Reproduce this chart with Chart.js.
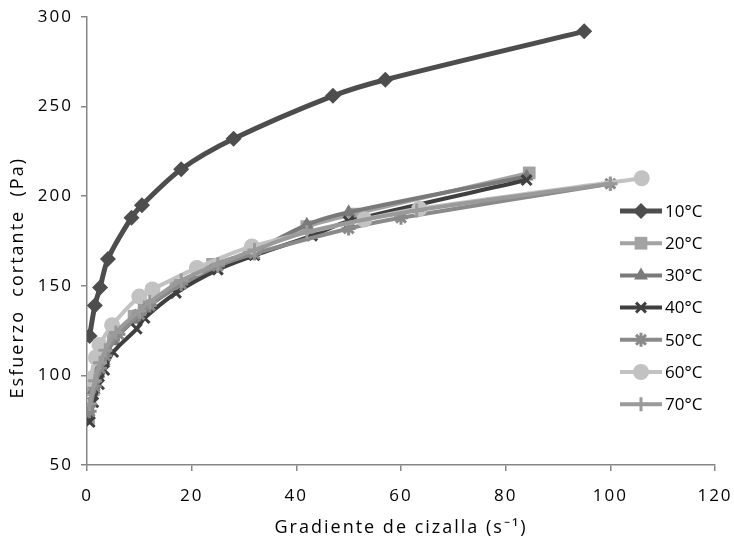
<!DOCTYPE html>
<html>
<head>
<meta charset="utf-8">
<script src="https://cdn.jsdelivr.net/npm/chart.js@4/dist/chart.umd.min.js"></script>
<style>
html, body { margin: 0; padding: 0; background: #fff; }
#wrap { width: 734px; height: 543px; }
</style>
</head>
<body>
<div id="wrap"><canvas id="chart"></canvas></div>
<script>
// temperatures (legend)
var labels = ['10°C', '20°C', '30°C', '40°C', '50°C', '60°C', '70°C'];

// shear rate (s-1) / shear stress (Pa)
var x10 = [0.5, 1.5, 2.5, 4, 8.5, 10.5, 18, 28, 47, 57, 95];
var y10 = [122, 139, 149, 165, 188, 195, 215, 232, 256, 265, 292];

var x20 = [0.3, 1.2, 2, 3, 5, 9, 11, 17, 24, 31, 42, 51, 84.5];
var y20 = [76, 92, 102, 110, 121, 133, 139, 150, 162, 168, 183, 190, 213];

var x30 = [0.4, 1.3, 2.2, 3.2, 5, 9, 11, 17, 24, 31, 42, 50, 84];
var y30 = [78, 92, 101, 108, 119, 131, 137, 149, 160, 168, 184, 191, 211];

var x40 = [0.5, 1.2, 2.3, 3.3, 5, 9.5, 11, 17, 25, 32, 43, 50, 84];
var y40 = [74, 85, 95, 103, 113, 126, 132, 146, 159, 167, 178, 186, 209];

var x50 = [0.5, 1.5, 2.5, 3.5, 6, 10, 12, 18, 25, 32, 50, 60, 100];
var y50 = [80, 94, 104, 111, 123, 134, 139, 151, 161, 168, 182, 188, 207];

var x60 = [0.5, 1.7, 2.4, 4.8, 10, 12.5, 21, 31.5, 53, 63.5, 106];
var y60 = [98, 110, 117, 128, 144, 148, 160, 172, 187, 193, 210];

var x70 = [0.5, 1.5, 2.5, 3.5, 5.5, 10, 12, 18, 25, 32, 42, 63, 100];
var y70 = [84, 97, 107, 114, 124, 136, 141, 153, 162, 170, 180, 192, 207];

var xTicks = [0, 20, 40, 60, 80, 100, 120];
var yTicks = [50, 100, 150, 200, 250, 300];

var xs = [x10, x20, x30, x40, x50, x60, x70];
var ys = [y10, y20, y30, y40, y50, y60, y70];

var colors = ['#4d4d4d', '#a3a3a3', '#7a7a7a', '#3f3f3f', '#8a8a8a', '#c2c2c2', '#9a9a9a'];
var styles = ['rectRot', 'rect', 'triangle', 'crossRot', 'star', 'circle', 'cross'];
var radii = [8, 9, 8, 7, 7, 8, 7];

function pts(a, b) {
    return a.map(function (v, i) { return { x: v, y: b[i] }; });
}

var datasets = labels.map(function (name, i) {
    return {
        label: name,
        data: pts(xs[i], ys[i]),
        borderColor: colors[i],
        backgroundColor: colors[i],
        borderWidth: i === 0 ? 5 : 4,
        pointStyle: styles[i],
        pointRadius: radii[i],
        pointBorderWidth: (styles[i] === 'crossRot' || styles[i] === 'star' || styles[i] === 'cross') ? 3 : 0,
        pointHoverRadius: radii[i],
        tension: 0.3,
        order: labels.length - i   // later series on top, like the original
    };
});

// wide-ish lettering for axis text (the original looks stretched)
var spacing = {
    id: 'spacing',
    beforeDraw: function (chart) { chart.ctx.letterSpacing = '2px'; }
};

// legend drawn inside the plot, line + marker + text
var lineLegend = {
    id: 'lineLegend',
    afterDraw: function (chart) {
        var ctx = chart.ctx;
        var area = chart.chartArea;
        var x0 = area.right - 95, x1 = x0 + 42;
        chart.data.datasets.forEach(function (ds, i) {
            var y = area.top + 194 + i * 32.2;
            ctx.save();
            ctx.letterSpacing = '0px';
            ctx.strokeStyle = ds.borderColor;
            ctx.fillStyle = ds.backgroundColor;
            ctx.lineWidth = ds.borderWidth;
            ctx.beginPath();
            ctx.moveTo(x0, y);
            ctx.lineTo(x1, y);
            ctx.stroke();
            ctx.lineWidth = ds.pointBorderWidth;
            Chart.helpers.drawPoint(ctx, {
                pointStyle: ds.pointStyle,
                radius: ds.pointRadius,
                rotation: 0,
                borderWidth: ds.pointBorderWidth
            }, (x0 + x1) / 2, y);
            ctx.fillStyle = '#000';
            ctx.font = '17px "Open Sans"';
            ctx.textBaseline = 'middle';
            ctx.fillText(ds.label, x1 + 3, y + 1);
            ctx.restore();
        });
    }
};

var axisColor = '#868686';

var ctx = document.getElementById('chart').getContext('2d');
var chart = new Chart(ctx, {
    type: 'line',
    data: { datasets: datasets },
    options: {
        responsive: true,
        maintainAspectRatio: false,
        animation: false,
        layout: { padding: { top: 17, right: 19, left: 0, bottom: 0 } },
        plugins: {
            legend: { display: false },
            tooltip: { enabled: false }
        },
        scales: {
            x: {
                type: 'linear',
                min: 0,
                max: 120,
                afterBuildTicks: function (s) { s.ticks = xTicks.map(function (v) { return { value: v }; }); },
                afterFit: function (s) { s.height = 78; s.paddingLeft = 0; s.paddingRight = 0; },
                grid: { drawOnChartArea: false, drawTicks: true, tickLength: 6, color: axisColor, lineWidth: 1.5 },
                border: { color: axisColor, width: 1.5 },
                ticks: { color: '#000', font: { family: 'Open Sans', size: 17 }, padding: 15, maxRotation: 0 },
                title: {
                    display: true,
                    text: 'Gradiente de cizalla (s⁻¹)',
                    color: '#000',
                    font: { family: 'Open Sans', size: 18 },
                    padding: { top: 0, bottom: 4 }
                }
            },
            y: {
                type: 'linear',
                min: 50,
                max: 300,
                afterBuildTicks: function (s) { s.ticks = yTicks.map(function (v) { return { value: v }; }); },
                afterFit: function (s) { s.width = 87; s.paddingTop = 0; s.paddingBottom = 0; },
                grid: { drawOnChartArea: false, drawTicks: true, tickLength: 6, color: axisColor, lineWidth: 1.5 },
                border: { color: axisColor, width: 1.5 },
                ticks: { color: '#000', font: { family: 'Open Sans', size: 17 }, padding: 8 },
                title: {
                    display: true,
                    // trailing blanks push the centred title down, as in the original
                    text: 'Esfuerzo  cortante  (Pa)           ',
                    color: '#000',
                    font: { family: 'Open Sans', size: 18 },
                    padding: { top: 7, bottom: 0 }
                }
            }
        }
    },
    plugins: [spacing, lineLegend]
});
</script>
</body>
</html>
